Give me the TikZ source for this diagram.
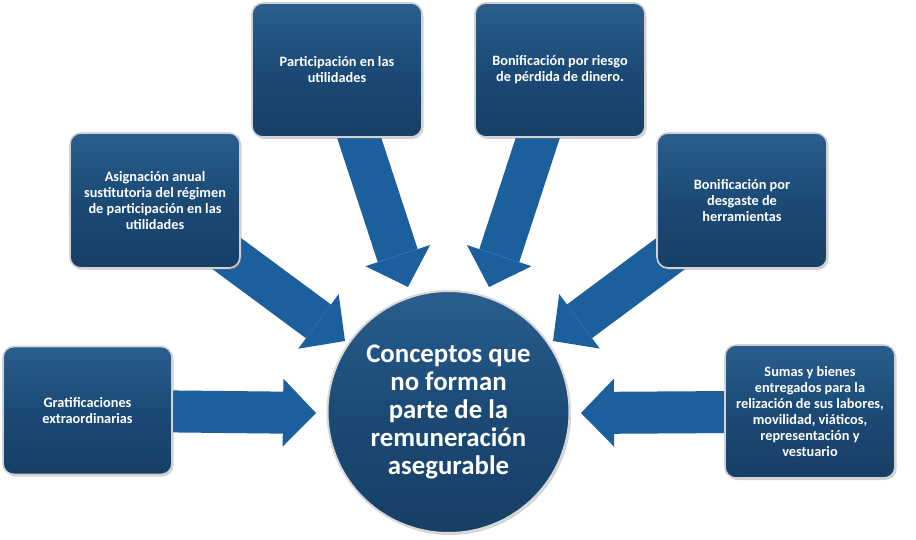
\documentclass[tikz,border=0pt]{standalone}
\usepackage{fontspec}
\setmainfont{Carlito}
\usetikzlibrary{arrows.meta,shadows,calc}
\definecolor{arrowblue}{HTML}{1B5F9D}
\definecolor{boxmid}{HTML}{1B4A75}
\definecolor{boxtop}{HTML}{2A5E8E}
\definecolor{boxbot}{HTML}{173F66}
\tikzset{
  bigarrow/.style={draw=arrowblue, line width=42pt, line cap=butt,
    -{Triangle[width=68pt,length=33pt,line width=0pt,fill=arrowblue]}},
  box/.style={rounded corners=11pt, top color=boxtop, bottom color=boxbot, middle color=boxmid,
    draw=gray!35, line width=1.6pt, text=white, align=center,
    font=\bfseries\fontsize{14.3}{16}\selectfont,
    drop shadow={shadow xshift=1.5pt, shadow yshift=-2pt, opacity=0.35}},
  hub/.style={circle, top color=boxtop, bottom color=boxbot, middle color=boxmid,
    draw=gray!30, line width=2pt, text=white, align=center,
    font=\bfseries\fontsize{26.8}{28.2}\selectfont,
    drop shadow={shadow xshift=1.5pt, shadow yshift=-2pt, opacity=0.35}}
}
\begin{document}
\begin{tikzpicture}[x=1pt,y=-1pt]
\useasboundingbox[fill=white] (0,0) rectangle (916,540);
% anchor positions
\coordinate (gc) at (87.5,410.5);
\coordinate (ac) at (155,200.5);
\coordinate (pc) at (337,70);
\coordinate (rc) at (560,70);
\coordinate (dc) at (742,200.5);
\coordinate (sc) at (810,411.5);
\coordinate (tg) at (316,413);
\coordinate (ta) at (345,341);
\coordinate (tp) at (408,287);
\coordinate (tr) at (489,287);
\coordinate (td) at (553,341);
\coordinate (ts) at (581,413);
% arrows (behind)
\draw[bigarrow] (gc) -- (tg);
\draw[bigarrow] (ac) -- (ta);
\draw[bigarrow] (pc) -- (tp);
\draw[bigarrow] (rc) -- (tr);
\draw[bigarrow] (dc) -- (td);
\draw[bigarrow] (sc) -- (ts);
% boxes
\node[box, minimum width=169pt, minimum height=128pt] (g) at (gc) {Gratificaciones\\extraordinarias};
\node[box, minimum width=170pt, minimum height=135pt] (a) at (ac) {Asignación anual\\sustitutoria del régimen\\de participación en las\\utilidades};
\node[box, minimum width=170pt, minimum height=134pt] (p) at (pc) {Participación en las\\utilidades};
\node[box, minimum width=170pt, minimum height=134pt] (r) at (rc) {Bonificación por riesgo\\de pérdida de dinero.};
\node[box, minimum width=170pt, minimum height=135pt] (d) at (dc) {Bonificación por\\desgaste de\\herramientas};
\node[box, minimum width=170pt, minimum height=133pt] (s) at (sc) {Sumas y bienes\\entregados para la\\relización de sus labores,\\movilidad, viáticos,\\representación y\\vestuario};
% hub
\node[hub, minimum size=242pt, inner sep=0pt] (c) at (448.5,412) {Conceptos que\\no forman\\parte de la\\remuneración\\asegurable};
\end{tikzpicture}
\end{document}
